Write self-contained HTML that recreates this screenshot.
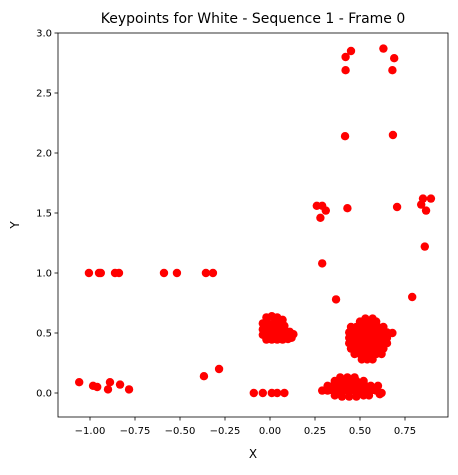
<!DOCTYPE html>
<html><head><meta charset="utf-8"><style>
body{margin:0;background:#fff;font-family:"Liberation Sans","DejaVu Sans",sans-serif}
svg text{font-family:"DejaVu Sans","Liberation Sans",sans-serif}
</style></head><body>
<svg id="chart" width="458" height="470" xmlns="http://www.w3.org/2000/svg">
<rect width="458" height="470" fill="#fff"/>
<text x="253" y="23" font-size="14" text-anchor="middle">Keypoints for White - Sequence 1 - Frame 0</text>
<g id="marks"></g>
<rect x="58" y="33" width="390" height="384" fill="none" stroke="#000" stroke-width="0.8"/>
<g id="axes"></g>
<text x="253" y="458" font-size="12" text-anchor="middle">X</text>
<text x="19" y="225" font-size="12" text-anchor="middle" transform="rotate(-90 19 225)">Y</text>
</svg>
<script>
const xTicks=[-1.0,-0.75,-0.5,-0.25,0.0,0.25,0.5,0.75];
const xTickLabels=["−1.00","−0.75","−0.50","−0.25","0.00","0.25","0.50","0.75"];
const yTicks=[0,0.5,1.0,1.5,2.0,2.5,3.0];
const yTickLabels=["0.0","0.5","1.0","1.5","2.0","2.5","3.0"];
const pointsX=[-1.06,-0.983,-0.96,-0.889,-0.9,-0.833,-0.783,-0.367,-0.283,
-1.006,-0.95,-0.94,-0.861,-0.839,-0.589,-0.517,-0.356,-0.317,
-0.09,-0.04,0.01,0.04,0.08,
0.42,0.45,0.42,0.63,0.69,0.68,0.417,0.683,0.26,0.29,0.31,0.28,0.43,0.706,0.85,0.894,0.84,0.867,0.86,0.79,0.29,0.367,
-0.02,0.01,0.04,0.07,
-0.04,-0.01,0.02,0.05,0.08,
-0.04,-0.01,0.02,0.05,0.08,0.11,
-0.04,-0.01,0.02,0.05,0.08,0.11,0.13,
-0.02,0.01,0.04,0.07,0.10,0.12,
0.50,0.53,0.56,0.59,0.53,0.57,
0.45,0.48,0.51,0.54,0.57,0.60,0.63,
0.44,0.47,0.50,0.53,0.56,0.59,0.62,0.65,0.68,
0.44,0.47,0.50,0.53,0.56,0.59,0.62,0.65,
0.44,0.47,0.50,0.53,0.56,0.59,0.62,0.65,
0.45,0.48,0.51,0.54,0.57,0.60,0.63,
0.47,0.50,0.53,0.56,0.59,0.62,
0.51,0.54,0.57,
0.39,0.43,0.47,
0.36,0.40,0.44,0.48,0.52,
0.32,0.35,0.38,0.41,0.44,0.47,0.50,0.53,0.56,0.60,
0.29,0.32,0.35,0.38,0.41,0.44,0.47,0.50,0.53,0.56,0.59,0.62,
0.36,0.40,0.44,0.48,0.52,0.55,0.61];
const pointsY=[0.09,0.06,0.05,0.09,0.03,0.07,0.03,0.14,0.2,
1,1,1,1,1,1,1,1,1,
0,0,0,0,0,
2.8,2.85,2.69,2.87,2.79,2.69,2.14,2.15,1.56,1.56,1.52,1.46,1.54,1.55,1.62,1.62,1.57,1.52,1.22,0.8,1.08,0.78,
0.63,0.64,0.63,0.61,
0.58,0.58,0.58,0.58,0.56,
0.53,0.53,0.53,0.53,0.53,0.51,
0.485,0.485,0.485,0.485,0.485,0.485,0.49,
0.445,0.445,0.445,0.445,0.45,0.46,
0.595,0.595,0.595,0.595,0.62,0.62,
0.55,0.55,0.55,0.55,0.55,0.55,0.55,
0.505,0.505,0.505,0.505,0.505,0.505,0.505,0.505,0.50,
0.46,0.46,0.46,0.46,0.46,0.46,0.46,0.46,
0.415,0.415,0.415,0.415,0.415,0.415,0.415,0.415,
0.37,0.37,0.37,0.37,0.37,0.37,0.37,
0.325,0.325,0.325,0.325,0.325,0.325,
0.28,0.28,0.28,
0.13,0.13,0.13,
0.10,0.10,0.10,0.10,0.10,
0.06,0.06,0.06,0.06,0.06,0.06,0.06,0.06,0.06,0.06,
0.02,0.02,0.02,0.02,0.02,0.02,0.02,0.02,0.02,0.02,0.02,0.0,
-0.02,-0.03,-0.03,-0.03,-0.02,-0.02,-0.01];
const NS="http://www.w3.org/2000/svg";
const X0=58,X1=448,Y0=33,Y1=417,xmin=-1.1778,xmax=0.9889,ymin=-0.2,ymax=3.0;
const sx=v=>X0+(v-xmin)/(xmax-xmin)*(X1-X0);
const sy=v=>Y1-(v-ymin)/(ymax-ymin)*(Y1-Y0);
const marks=document.getElementById('marks');
for(let i=0;i<pointsX.length;i++){
 const c=document.createElementNS(NS,'circle');
 c.setAttribute('cx',sx(pointsX[i]));c.setAttribute('cy',sy(pointsY[i]));c.setAttribute('r',4.2);c.setAttribute('fill','#ff0000');
 
 
 marks.appendChild(c);
}
const axes=document.getElementById('axes');
function add(tag,attrs,text){const e=document.createElementNS(NS,tag);for(const k in attrs)e.setAttribute(k,attrs[k]);if(text!==undefined)e.textContent=text;axes.appendChild(e);return e;}
xTicks.forEach((t,i)=>{const x=sx(t);
 const l=add('line',{x1:x,x2:x,y1:Y1,y2:Y1+3.5,stroke:'#000','stroke-width':0.8});
 
 
 const tx=add('text',{x:x,y:Y1+17,'font-size':10,'text-anchor':'middle'},xTickLabels[i]);
 
 
});
yTicks.forEach((t,i)=>{const y=sy(t);
 const l=add('line',{x1:X0-3.5,x2:X0,y1:y,y2:y,stroke:'#000','stroke-width':0.8});
 
 
 const tx=add('text',{x:X0-6,y:y+3.5,'font-size':10,'text-anchor':'end'},yTickLabels[i]);
 
 
});
</script>
</body></html>
